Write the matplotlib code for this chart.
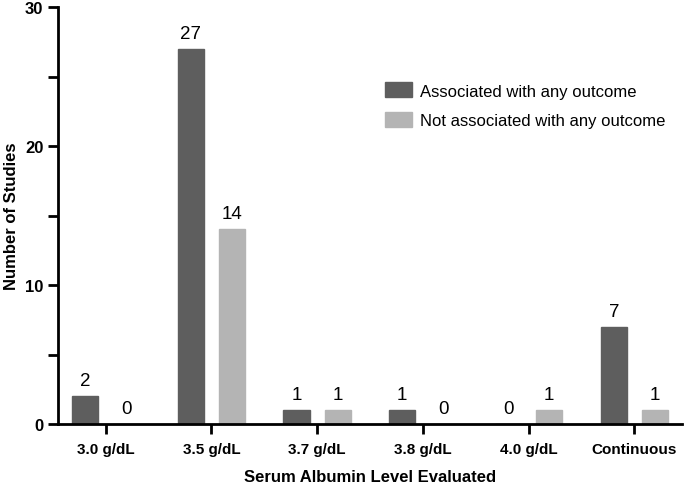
import matplotlib
matplotlib.use("Agg")
import matplotlib.pyplot as plt
from matplotlib.ticker import MultipleLocator
import numpy as np

plt.rcParams['font.family'] = ['Liberation Sans', 'DejaVu Sans']

categories = ["3.0 g/dL", "3.5 g/dL", "3.7 g/dL", "3.8 g/dL", "4.0 g/dL", "Continuous"]
associated = [2, 27, 1, 1, 0, 7]
not_associated = [0, 14, 1, 0, 1, 1]
series_names = ["Associated with any outcome", "Not associated with any outcome"]
colors = ["#5e5e5e", "#b4b4b4"]

fig = plt.figure(figsize=(6.88, 4.85), dpi=100)
ax = fig.add_axes([58 / 688, 1 - 425 / 485, 624 / 688, 417 / 485])

x = np.arange(len(categories))
width = 0.25
offset = 0.195
for vals, off, color, name in zip([associated, not_associated], [-offset, offset], colors, series_names):
    bars = ax.bar(x + off, vals, width, color=color, edgecolor=color, label=name, zorder=2)
    for b, v in zip(bars, vals):
        ax.text(b.get_x() + b.get_width() / 2, v + 0.5, str(v), ha='center', va='bottom', fontsize=13.5)

ax.set_xlim(-0.45, len(categories) - 0.55)
ax.set_ylim(0, 30)
ax.yaxis.set_major_locator(MultipleLocator(10))
ax.yaxis.set_minor_locator(MultipleLocator(5))
ax.set_xticks(x)
ax.set_xticklabels(categories, fontweight='bold', fontsize=11)
for lbl in ax.get_yticklabels():
    lbl.set_fontweight('bold')
    lbl.set_fontsize(12)

for side in ['top', 'right']:
    ax.spines[side].set_visible(False)
for side in ['left', 'bottom']:
    ax.spines[side].set_linewidth(2)
ax.tick_params(axis='both', which='major', width=2, length=7, direction='out')
ax.tick_params(axis='y', which='minor', width=2, length=7, direction='out')
ax.tick_params(axis='x', pad=6)

ax.set_ylabel("Number of Studies", fontweight='bold', fontsize=12, labelpad=4)
ax.set_xlabel("Serum Albumin Level Evaluated", fontweight='bold', fontsize=12, labelpad=9)

ax.legend(frameon=False, loc='upper left', bbox_to_anchor=(0.5, 0.855), fontsize=12,
          handlelength=1.6, handleheight=1.0, labelspacing=0.8, handletextpad=0.5)

fig.savefig("out.png", dpi=100)
